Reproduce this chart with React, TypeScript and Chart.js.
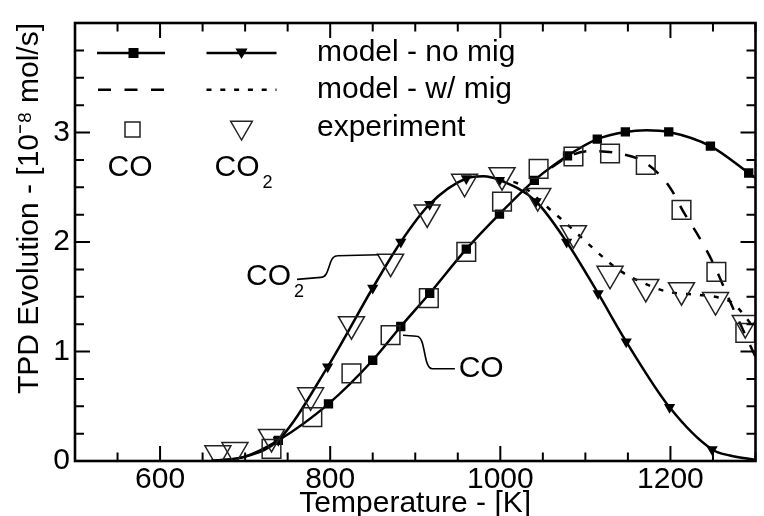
import React, { useEffect, useRef } from "react";
import { Chart, registerables } from "chart.js";

Chart.register(...registerables);

const FONT = "'Liberation Sans', Arial, Helvetica, sans-serif";

// ---- axes ----
const X_MIN = 500;
const X_MAX = 1300;
const Y_MIN = 0;
const Y_MAX = 4;
const X_TICKS = [600, 800, 1000, 1200];
const Y_TICKS = [0, 1, 2, 3];
const X_MINOR_STEP = 50;
const Y_MINOR_STEP = 0.25;
const X_TITLE = "Temperature - [K]";
const Y_TITLE = "TPD Evolution - [10⁻⁸ mol/s]";

// ---- model - no mig ----
const CO_MODEL_T = [660, 700, 739, 798, 850, 883, 917, 960, 999, 1040, 1079, 1114, 1147, 1172, 1198, 1247, 1292, 1300];
const CO_MODEL_Y = [0.0, 0.04, 0.188, 0.522, 0.92, 1.228, 1.532, 1.935, 2.255, 2.563, 2.787, 2.939, 3.005, 3.02, 3.005, 2.876, 2.63, 2.585];
const CO_MODEL_MARK_T = [739, 798, 850, 883, 917, 960, 999, 1040, 1079, 1114, 1147, 1198, 1247, 1292];

const CO2_MODEL_T = [660, 700, 739, 797, 850, 883, 917, 960, 980, 999, 1042, 1078, 1115, 1148, 1199, 1249, 1270, 1300];
const CO2_MODEL_Y = [0.0, 0.04, 0.19, 0.86, 1.58, 2.0, 2.345, 2.58, 2.6, 2.565, 2.37, 2.0, 1.53, 1.09, 0.49, 0.105, 0.05, 0.01];
const CO2_MODEL_MARK_T = [739, 797, 850, 883, 917, 960, 999, 1042, 1078, 1115, 1148, 1199, 1249];

// ---- model - w/ mig ----
const CO_MIG_T = [1060, 1080, 1106, 1138, 1170, 1199, 1215, 1234, 1250, 1271, 1300];
const CO_MIG_Y = [2.68, 2.78, 2.83, 2.81, 2.727, 2.503, 2.279, 2.04, 1.81, 1.44, 0.95];

const CO2_MIG_T = [999, 1021, 1057, 1075, 1106, 1123, 1140, 1161, 1196, 1234, 1251, 1273, 1300];
const CO2_MIG_Y = [2.565, 2.533, 2.306, 2.186, 1.965, 1.846, 1.741, 1.651, 1.547, 1.517, 1.502, 1.443, 1.2];

// ---- experiment ----
const CO_EXP_T = [731, 779, 825, 871, 916, 960, 1002, 1045, 1086, 1129, 1171, 1213, 1254, 1288];
const CO_EXP_Y = [0.11, 0.4, 0.8, 1.15, 1.487, 1.91, 2.368, 2.668, 2.781, 2.808, 2.703, 2.294, 1.727, 1.17];

const CO2_EXP_T = [668, 688, 731, 777, 825, 871, 914, 958, 1002, 1044, 1086, 1129, 1171, 1213, 1253, 1288];
const CO2_EXP_Y = [0.07, 0.1, 0.22, 0.6, 1.25, 1.82, 2.27, 2.55, 2.61, 2.42, 2.08, 1.71, 1.59, 1.56, 1.47, 1.26];

// ---- legend / labels ----
const LEGEND_ROWS = ["model - no mig", "model - w/ mig", "experiment"];
const SPECIES = [
  { main: "CO", sub: "" },
  { main: "CO", sub: "2" },
];
// annotations: text anchor and leader path in data coordinates [T, value]
const ANNOTATIONS = [
  { main: "CO", sub: "2", at: [701, 1.683], path: [[761, 1.659], [789, 1.677], [808.5, 1.874], [857, 1.883]] },
  { main: "CO", sub: "", at: [951, 0.843], path: [[885.6, 1.148], [901.7, 1.139], [920.1, 0.843], [946.6, 0.843]] },
];

const pts = (T: number[], Y: number[]) => T.map((t, i) => ({ x: t, y: Y[i] }));

const framePlugin = {
  id: "frame",
  afterDatasetsDraw(chart: any) {
    const { ctx, chartArea: a, scales } = chart;
    const xs = scales.x;
    const ys = scales.y;
    ctx.save();
    ctx.strokeStyle = "#000";
    ctx.lineWidth = 2;
    ctx.beginPath();
    for (let v = X_MIN; v <= X_MAX + 1e-6; v += X_MINOR_STEP) {
      const px = xs.getPixelForValue(v);
      const len = X_TICKS.includes(v) ? 15 : 8.5;
      ctx.moveTo(px, a.bottom);
      ctx.lineTo(px, a.bottom - len);
      ctx.moveTo(px, a.top);
      ctx.lineTo(px, a.top + len);
    }
    for (let v = Y_MIN; v <= Y_MAX + 1e-6; v += Y_MINOR_STEP) {
      const py = ys.getPixelForValue(v);
      const len = Math.abs(v - Math.round(v)) < 1e-6 ? 15 : 9;
      ctx.moveTo(a.left, py);
      ctx.lineTo(a.left + len, py);
      ctx.moveTo(a.right, py);
      ctx.lineTo(a.right - len, py);
    }
    ctx.stroke();
    ctx.lineWidth = 2.6;
    ctx.strokeRect(a.left, a.top, a.right - a.left, a.bottom - a.top);
    ctx.restore();
  },
};

const overlayPlugin = {
  id: "overlay",
  afterDraw(chart: any) {
    const { ctx, chartArea: a, scales } = chart;
    const xs = scales.x;
    const ys = scales.y;
    ctx.save();
    ctx.fillStyle = "#000";
    ctx.strokeStyle = "#000";
    const seg = (x1: number, x2: number, yy: number, dash: number[], w: number) => {
      ctx.beginPath();
      ctx.setLineDash(dash);
      ctx.lineWidth = w;
      ctx.moveTo(x1, yy);
      ctx.lineTo(x2, yy);
      ctx.stroke();
      ctx.setLineDash([]);
    };
    const sq = (cx: number, cy: number, s: number, fill: boolean) => {
      if (fill) ctx.fillRect(cx - s / 2, cy - s / 2, s, s);
      else {
        ctx.lineWidth = 1.5;
        ctx.strokeStyle = "#222";
        ctx.strokeRect(cx - s / 2, cy - s / 2, s, s);
        ctx.strokeStyle = "#000";
      }
    };
    const tri = (cx: number, cy: number, r: number, fill: boolean) => {
      ctx.beginPath();
      ctx.moveTo(cx, cy + r);
      ctx.lineTo(cx - 0.866 * r, cy - 0.5 * r);
      ctx.lineTo(cx + 0.866 * r, cy - 0.5 * r);
      ctx.closePath();
      if (fill) ctx.fill();
      else {
        ctx.lineWidth = 1.5;
        ctx.strokeStyle = "#222";
        ctx.stroke();
        ctx.strokeStyle = "#000";
      }
    };
    const text = (main: string, sub: string, x: number, y: number, align: string) => {
      ctx.font = `30px ${FONT}`;
      ctx.textBaseline = "middle";
      ctx.textAlign = "left";
      const w = ctx.measureText(main).width;
      const x0 = align === "center" ? x - w / 2 : x;
      ctx.fillText(main, x0, y);
      if (sub) {
        ctx.font = `18px ${FONT}`;
        ctx.fillText(sub, x0 + w + 3, y + 15.5);
      }
    };

    // legend
    const L = a.left;
    const T = a.top;
    const c1 = L + 56;
    const c2 = L + 166.5;
    const tx = L + 242;
    const rows = [T + 30, T + 66.7, T + 105, T + 144.5];
    seg(c1 - 34, c1 + 34, rows[0], [], 2.5);
    sq(c1 + 2.5, rows[0], 10, true);
    seg(c2 - 35, c2 + 35, rows[0], [], 2.5);
    tri(c2, rows[0] - 1, 7, true);
    seg(c1 - 33, c1 + 34, rows[1], [13, 13.5], 2.5);
    seg(c2 - 35, c2 + 35, rows[1], [5, 8.8], 2.5);
    sq(c1 + 1.5, rows[2] + 1.5, 15, false);
    tri(c2, rows[2] - 0.5, 12.5, false);
    ctx.font = `30px ${FONT}`;
    ctx.textBaseline = "middle";
    ctx.textAlign = "left";
    LEGEND_ROWS.forEach((s, i) => {
      ctx.font = `30px ${FONT}`;
      ctx.textBaseline = "middle";
      ctx.textAlign = "left";
      ctx.fillText(s, tx, rows[i]);
    });
    text(SPECIES[0].main, SPECIES[0].sub, c1 - 1, rows[3], "center");
    text(SPECIES[1].main, SPECIES[1].sub, c2 - 4.5, rows[3], "center");

    // annotations with leader lines
    ctx.lineWidth = 1.6;
    ANNOTATIONS.forEach((an) => {
      const p = an.path.map(([t, v]) => [xs.getPixelForValue(t), ys.getPixelForValue(v)]);
      ctx.beginPath();
      ctx.moveTo(p[0][0], p[0][1]);
      ctx.lineTo(p[1][0], p[1][1]);
      const k = (p[2][0] - p[1][0]) * 0.6;
      ctx.bezierCurveTo(p[1][0] + k, p[1][1], p[2][0] - k, p[2][1], p[2][0], p[2][1]);
      ctx.lineTo(p[3][0], p[3][1]);
      ctx.stroke();
      text(an.main, an.sub, xs.getPixelForValue(an.at[0]), ys.getPixelForValue(an.at[1]), "left");
    });
    ctx.restore();
  },
};

export default function App() {
  const ref = useRef<HTMLCanvasElement>(null);
  useEffect(() => {
    document.body.style.margin = "0";
    const canvas = ref.current as HTMLCanvasElement;
    Chart.defaults.font.family = FONT;
    Chart.defaults.color = "#000";
    const chart = new Chart(canvas, {
      type: "scatter",
      data: {
        datasets: [
          {
            label: "CO experiment",
            data: pts(CO_EXP_T, CO_EXP_Y),
            showLine: false,
            pointStyle: "rect",
            pointRadius: 13.2,
            borderColor: "#222",
            borderWidth: 1.5,
            backgroundColor: "rgba(0,0,0,0)",
          },
          {
            label: "CO2 experiment",
            data: pts(CO2_EXP_T, CO2_EXP_Y),
            showLine: false,
            pointStyle: "triangle",
            pointRotation: 180,
            pointRadius: 15,
            borderColor: "#222",
            borderWidth: 1.5,
            backgroundColor: "rgba(0,0,0,0)",
          },
          {
            label: "CO model - no mig",
            data: pts(CO_MODEL_T, CO_MODEL_Y),
            showLine: true,
            borderColor: "#000",
            borderWidth: 2.5,
            cubicInterpolationMode: "monotone",
            pointStyle: "rect",
            pointRadius: (c: any) => (c.raw && CO_MODEL_MARK_T.includes(c.raw.x) ? 6.6 : 0),
            pointBackgroundColor: "#000",
            pointBorderWidth: 0,
          },
          {
            label: "CO2 model - no mig",
            data: pts(CO2_MODEL_T, CO2_MODEL_Y),
            showLine: true,
            borderColor: "#000",
            borderWidth: 2.5,
            cubicInterpolationMode: "monotone",
            pointStyle: "triangle",
            pointRotation: 180,
            pointRadius: (c: any) => (c.raw && CO2_MODEL_MARK_T.includes(c.raw.x) ? 6.5 : 0),
            pointBackgroundColor: "#000",
            pointBorderWidth: 0,
          },
          {
            label: "CO model - w/ mig",
            data: pts(CO_MIG_T, CO_MIG_Y),
            showLine: true,
            borderColor: "#000",
            borderWidth: 2.5,
            borderDash: [13, 13],
            cubicInterpolationMode: "monotone",
            pointRadius: 0,
          },
          {
            label: "CO2 model - w/ mig",
            data: pts(CO2_MIG_T, CO2_MIG_Y),
            showLine: true,
            borderColor: "#000",
            borderWidth: 2.5,
            borderDash: [5, 9],
            cubicInterpolationMode: "monotone",
            pointRadius: 0,
          },
        ],
      },
      options: {
        responsive: false,
        animation: false,
        layout: { padding: { left: 0, top: 15, right: 2, bottom: 0 } },
        plugins: { legend: { display: false }, tooltip: { enabled: false } },
        scales: {
          x: {
            type: "linear",
            min: X_MIN,
            max: X_MAX,
            afterBuildTicks: (s: any) => {
              s.ticks = X_TICKS.map((v) => ({ value: v }));
            },
            afterFit: (s: any) => {
              s.height = 55;
            },
            grid: { display: false, drawTicks: false },
            border: { display: false },
            ticks: {
              padding: 1,
              autoSkip: false,
              maxRotation: 0,
              color: "#000",
              font: { size: 30, family: FONT },
              callback: (v: any) => String(v),
            },
            title: {
              display: true,
              text: X_TITLE,
              color: "#000",
              padding: 0,
              font: { size: 30, family: FONT, lineHeight: 0.8 },
            },
          },
          y: {
            type: "linear",
            min: Y_MIN,
            max: Y_MAX,
            afterBuildTicks: (s: any) => {
              s.ticks = Y_TICKS.map((v) => ({ value: v }));
            },
            afterFit: (s: any) => {
              s.width = 75;
            },
            grid: { display: false, drawTicks: false },
            border: { display: false },
            ticks: {
              padding: 5,
              color: "#000",
              font: { size: 30, family: FONT },
              callback: (v: any) => String(v),
            },
            title: {
              display: true,
              text: Y_TITLE,
              align: "end",
              color: "#000",
              padding: { top: 12, bottom: 0 },
              font: { size: 30, family: FONT },
            },
          },
        },
      } as any,
      plugins: [framePlugin, overlayPlugin],
    } as any);
    return () => chart.destroy();
  }, []);
  return (
    <div style={{ width: 764, height: 516, overflow: "hidden" }}>
      <canvas ref={ref} width={772} height={516} style={{ display: "block" }} />
    </div>
  );
}
